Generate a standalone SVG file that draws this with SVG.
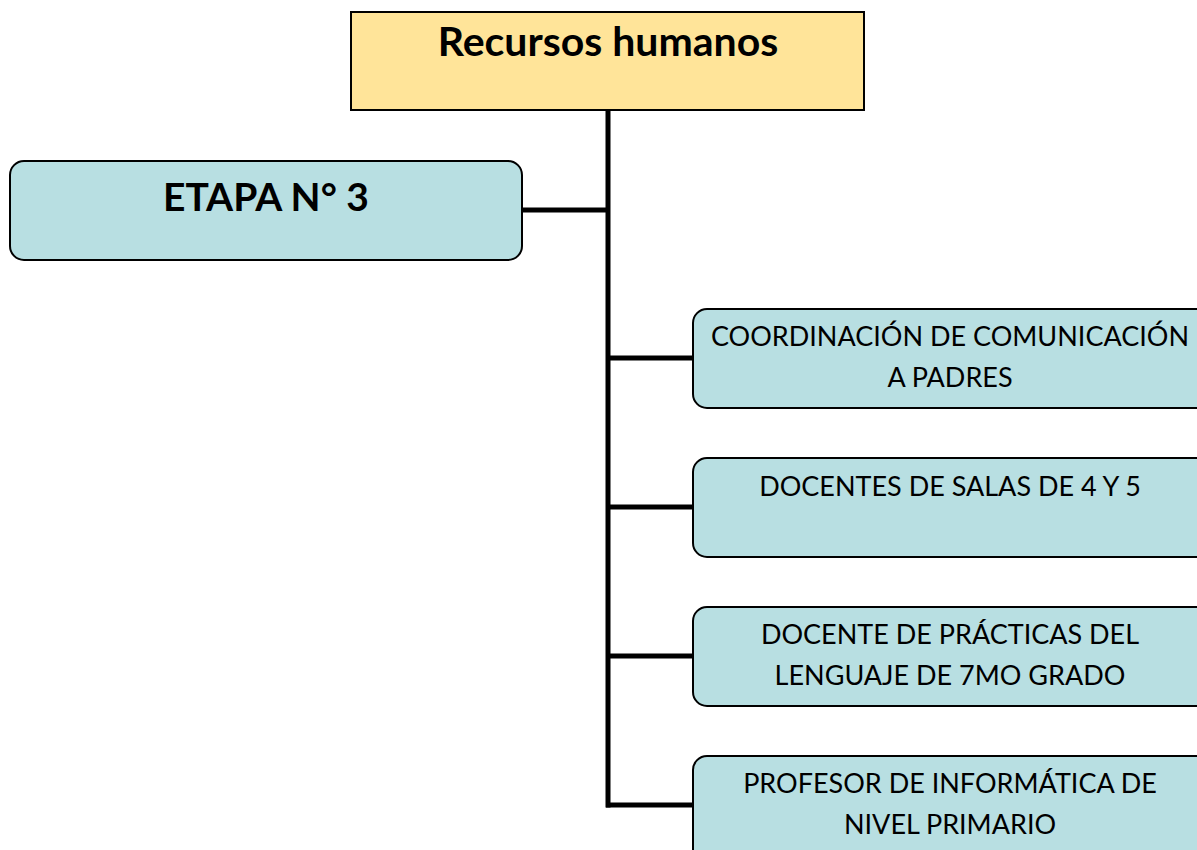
<svg xmlns="http://www.w3.org/2000/svg" width="1197" height="850" viewBox="0 0 1197 850">
<style>
.box{fill:#B8DFE2;stroke:#000;stroke-width:2}
.t{font-family:Lato,"Open Sans","Liberation Sans",sans-serif;font-size:27px;fill:#000;text-anchor:middle}
.b{font-family:Lato,"Open Sans","Liberation Sans",sans-serif;font-weight:bold;fill:#000;text-anchor:middle}
.c{stroke:#000;stroke-width:5;fill:none}
</style>
<rect width="1197" height="850" fill="#fff"/>
<g id="connectors">
<line class="c" x1="608" y1="110" x2="608" y2="807.5"/>
<line class="c" x1="522" y1="210" x2="610" y2="210"/>
<line class="c" x1="606" y1="358" x2="694" y2="358"/>
<line class="c" x1="606" y1="507" x2="694" y2="507"/>
<line class="c" x1="606" y1="656" x2="694" y2="656"/>
<line class="c" x1="606" y1="805" x2="694" y2="805"/>
</g>
<g id="root">
<rect x="351" y="12" width="513" height="98" fill="#FFE499" stroke="#000" stroke-width="2"/>
<text class="b" x="608" y="56" font-size="41">Recursos humanos</text>
</g>
<g id="etapa">
<rect class="box" x="10" y="161" width="512" height="99" rx="14"/>
<text class="b" x="266" y="211" font-size="39">ETAPA N° 3</text>
</g>
<g id="n1">
<rect class="box" x="693" y="309" width="520" height="99" rx="14"/>
<text class="t" x="950" y="346">COORDINACIÓN DE COMUNICACIÓN</text>
<text class="t" x="950" y="387">A PADRES</text>
</g>
<g id="n2">
<rect class="box" x="693" y="458" width="520" height="99" rx="14"/>
<text class="t" x="950" y="496">DOCENTES DE SALAS DE 4 Y 5</text>
</g>
<g id="n3">
<rect class="box" x="693" y="607" width="520" height="99" rx="14"/>
<text class="t" x="950" y="644">DOCENTE DE PRÁCTICAS DEL</text>
<text class="t" x="950" y="685">LENGUAJE DE 7MO GRADO</text>
</g>
<g id="n4">
<rect class="box" x="693" y="756" width="520" height="110" rx="14"/>
<text class="t" x="950" y="793">PROFESOR DE INFORMÁTICA DE</text>
<text class="t" x="950" y="834">NIVEL PRIMARIO</text>
</g>
</svg>
